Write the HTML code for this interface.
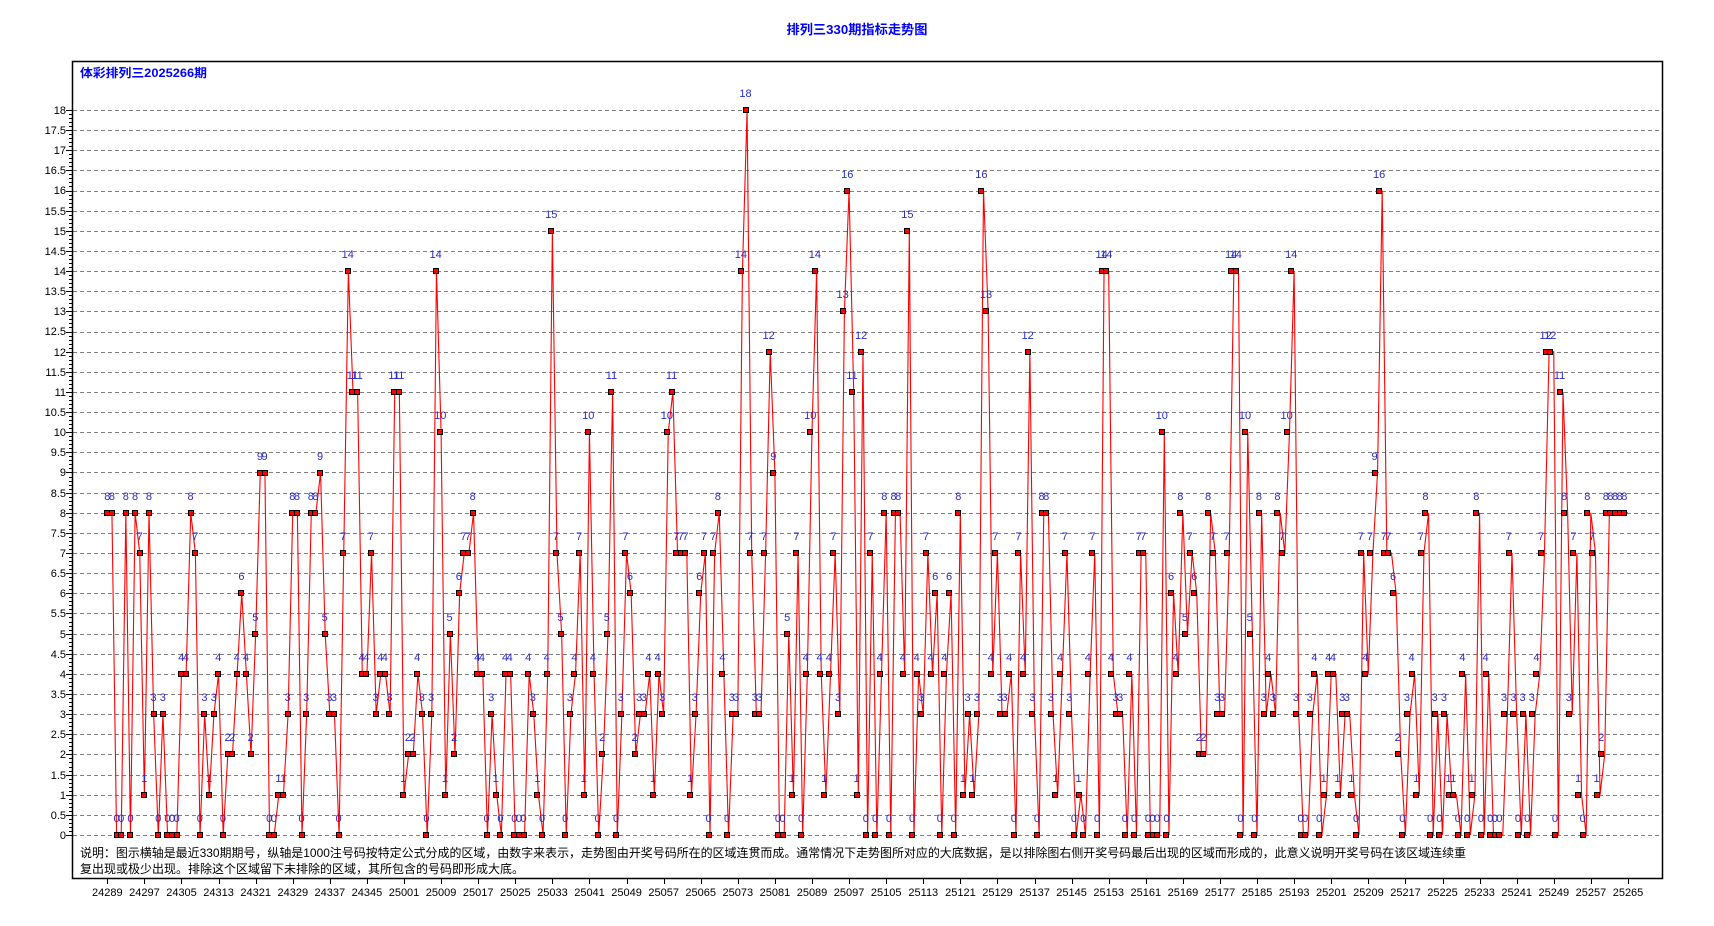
<!DOCTYPE html>
<html><head><meta charset="utf-8">
<style>
html,body{margin:0;padding:0;background:#fff;width:1714px;height:926px;overflow:hidden;position:relative}
svg{position:absolute;left:0;top:0}
#pts{position:absolute;left:104.98px;top:0;height:879px;display:flex;font-family:"Liberation Sans",Arial,sans-serif;font-size:11px;line-height:11px;color:#2a2ac8}
#pts i{font-style:normal;flex:none;width:4.636px;height:100%;display:flex;justify-content:center;align-items:flex-start;position:relative;box-sizing:border-box;padding-top:calc(var(--y) - 21px);white-space:nowrap}
#pts i::after{content:"";position:absolute;left:50%;margin-left:-3px;top:calc(var(--y) - 3px);width:4px;height:4px;background:#f00;border:1px solid #000;z-index:2}
.a0{--y:835px}.a1{--y:794.7px}.a2{--y:754.4px}.a3{--y:714.2px}.a4{--y:673.9px}.a5{--y:633.6px}.a6{--y:593.3px}.a7{--y:553px}.a8{--y:512.8px}.a9{--y:472.5px}.a10{--y:432.2px}.a11{--y:391.9px}.a12{--y:351.6px}.a13{--y:311.4px}.a14{--y:271.1px}.a15{--y:230.8px}.a16{--y:190.5px}.a17{--y:150.2px}.a18{--y:110px}
</style></head><body>
<svg width="1714" height="926" xmlns="http://www.w3.org/2000/svg">
<g id="grid" stroke="#808080" stroke-width="1" stroke-dasharray="4,3"></g>
<g id="ticks" stroke="#000" stroke-width="1"></g>
<rect x="72.5" y="61.5" width="1590" height="817" fill="none" stroke="#000" stroke-width="1.5"/>
<polyline id="ln" fill="none" stroke="#f00" stroke-width="1.1" points=""/>
<text x="857" y="34" text-anchor="middle" font-family="Liberation Sans,Noto Sans CJK SC,sans-serif" font-size="13" font-weight="bold" fill="#0000ff" textLength="141" lengthAdjust="spacingAndGlyphs">排列三330期指标走势图</text>
<text x="80" y="77" font-family="Liberation Sans,Noto Sans CJK SC,sans-serif" font-size="12" font-weight="bold" fill="#0000ff" textLength="127" lengthAdjust="spacingAndGlyphs">体彩排列三2025266期</text>
<g font-family="Liberation Sans,Noto Sans CJK SC,sans-serif" font-size="12" fill="#000">
<text x="80" y="857" textLength="1386" lengthAdjust="spacingAndGlyphs">说明：图示横轴是最近330期期号，纵轴是1000注号码按特定公式分成的区域，由数字来表示，走势图由开奖号码所在的区域连贯而成。通常情况下走势图所对应的大底数据，是以排除图右侧开奖号码最后出现的区域而形成的，此意义说明开奖号码在该区域连续重</text>
<text x="80" y="873">复出现或极少出现。排除这个区域留下未排除的区域，其所包含的号码即形成大底。</text>
</g>
<g font-family="Liberation Sans,Arial,sans-serif" font-size="11" fill="#000" text-anchor="end">
<text x="66" y="839">0</text><text x="66" y="819">0.5</text><text x="66" y="799">1</text><text x="66" y="779">1.5</text><text x="66" y="758">2</text><text x="66" y="738">2.5</text><text x="66" y="718">3</text><text x="66" y="698">3.5</text><text x="66" y="678">4</text><text x="66" y="658">4.5</text><text x="66" y="638">5</text><text x="66" y="617">5.5</text><text x="66" y="597">6</text><text x="66" y="577">6.5</text><text x="66" y="557">7</text><text x="66" y="537">7.5</text><text x="66" y="517">8</text><text x="66" y="497">8.5</text><text x="66" y="476">9</text><text x="66" y="456">9.5</text><text x="66" y="436">10</text><text x="66" y="416">10.5</text><text x="66" y="396">11</text><text x="66" y="376">11.5</text><text x="66" y="356">12</text><text x="66" y="335">12.5</text><text x="66" y="315">13</text><text x="66" y="295">13.5</text><text x="66" y="275">14</text><text x="66" y="255">14.5</text><text x="66" y="235">15</text><text x="66" y="215">15.5</text><text x="66" y="194">16</text><text x="66" y="174">16.5</text><text x="66" y="154">17</text><text x="66" y="134">17.5</text><text x="66" y="114">18</text>
</g>
<g font-family="Liberation Sans,Arial,sans-serif" font-size="11" fill="#000" text-anchor="middle">
<text x="107.3" y="896">24289</text><text x="144.4" y="896">24297</text><text x="181.5" y="896">24305</text><text x="218.6" y="896">24313</text><text x="255.7" y="896">24321</text><text x="292.8" y="896">24329</text><text x="329.8" y="896">24337</text><text x="366.9" y="896">24345</text><text x="404" y="896">25001</text><text x="441.1" y="896">25009</text><text x="478.2" y="896">25017</text><text x="515.3" y="896">25025</text><text x="552.4" y="896">25033</text><text x="589.5" y="896">25041</text><text x="626.6" y="896">25049</text><text x="663.7" y="896">25057</text><text x="700.7" y="896">25065</text><text x="737.8" y="896">25073</text><text x="774.9" y="896">25081</text><text x="812" y="896">25089</text><text x="849.1" y="896">25097</text><text x="886.2" y="896">25105</text><text x="923.3" y="896">25113</text><text x="960.4" y="896">25121</text><text x="997.5" y="896">25129</text><text x="1034.6" y="896">25137</text><text x="1071.6" y="896">25145</text><text x="1108.7" y="896">25153</text><text x="1145.8" y="896">25161</text><text x="1182.9" y="896">25169</text><text x="1220" y="896">25177</text><text x="1257.1" y="896">25185</text><text x="1294.2" y="896">25193</text><text x="1331.3" y="896">25201</text><text x="1368.4" y="896">25209</text><text x="1405.5" y="896">25217</text><text x="1442.5" y="896">25225</text><text x="1479.6" y="896">25233</text><text x="1516.7" y="896">25241</text><text x="1553.8" y="896">25249</text><text x="1590.9" y="896">25257</text><text x="1628" y="896">25265</text>
</g>
</svg>
<div id="pts"><i class=a8>8</i><i class=a8>8</i><i class=a0>0</i><i class=a0>0</i><i class=a8>8</i><i class=a0>0</i><i class=a8>8</i><i class=a7>7</i><i class=a1>1</i><i class=a8>8</i><i class=a3>3</i><i class=a0>0</i><i class=a3>3</i><i class=a0>0</i><i class=a0>0</i><i class=a0>0</i><i class=a4>4</i><i class=a4>4</i><i class=a8>8</i><i class=a7>7</i><i class=a0>0</i><i class=a3>3</i><i class=a1>1</i><i class=a3>3</i><i class=a4>4</i><i class=a0>0</i><i class=a2>2</i><i class=a2>2</i><i class=a4>4</i><i class=a6>6</i><i class=a4>4</i><i class=a2>2</i><i class=a5>5</i><i class=a9>9</i><i class=a9>9</i><i class=a0>0</i><i class=a0>0</i><i class=a1>1</i><i class=a1>1</i><i class=a3>3</i><i class=a8>8</i><i class=a8>8</i><i class=a0>0</i><i class=a3>3</i><i class=a8>8</i><i class=a8>8</i><i class=a9>9</i><i class=a5>5</i><i class=a3>3</i><i class=a3>3</i><i class=a0>0</i><i class=a7>7</i><i class=a14>14</i><i class=a11>11</i><i class=a11>11</i><i class=a4>4</i><i class=a4>4</i><i class=a7>7</i><i class=a3>3</i><i class=a4>4</i><i class=a4>4</i><i class=a3>3</i><i class=a11>11</i><i class=a11>11</i><i class=a1>1</i><i class=a2>2</i><i class=a2>2</i><i class=a4>4</i><i class=a3>3</i><i class=a0>0</i><i class=a3>3</i><i class=a14>14</i><i class=a10>10</i><i class=a1>1</i><i class=a5>5</i><i class=a2>2</i><i class=a6>6</i><i class=a7>7</i><i class=a7>7</i><i class=a8>8</i><i class=a4>4</i><i class=a4>4</i><i class=a0>0</i><i class=a3>3</i><i class=a1>1</i><i class=a0>0</i><i class=a4>4</i><i class=a4>4</i><i class=a0>0</i><i class=a0>0</i><i class=a0>0</i><i class=a4>4</i><i class=a3>3</i><i class=a1>1</i><i class=a0>0</i><i class=a4>4</i><i class=a15>15</i><i class=a7>7</i><i class=a5>5</i><i class=a0>0</i><i class=a3>3</i><i class=a4>4</i><i class=a7>7</i><i class=a1>1</i><i class=a10>10</i><i class=a4>4</i><i class=a0>0</i><i class=a2>2</i><i class=a5>5</i><i class=a11>11</i><i class=a0>0</i><i class=a3>3</i><i class=a7>7</i><i class=a6>6</i><i class=a2>2</i><i class=a3>3</i><i class=a3>3</i><i class=a4>4</i><i class=a1>1</i><i class=a4>4</i><i class=a3>3</i><i class=a10>10</i><i class=a11>11</i><i class=a7>7</i><i class=a7>7</i><i class=a7>7</i><i class=a1>1</i><i class=a3>3</i><i class=a6>6</i><i class=a7>7</i><i class=a0>0</i><i class=a7>7</i><i class=a8>8</i><i class=a4>4</i><i class=a0>0</i><i class=a3>3</i><i class=a3>3</i><i class=a14>14</i><i class=a18>18</i><i class=a7>7</i><i class=a3>3</i><i class=a3>3</i><i class=a7>7</i><i class=a12>12</i><i class=a9>9</i><i class=a0>0</i><i class=a0>0</i><i class=a5>5</i><i class=a1>1</i><i class=a7>7</i><i class=a0>0</i><i class=a4>4</i><i class=a10>10</i><i class=a14>14</i><i class=a4>4</i><i class=a1>1</i><i class=a4>4</i><i class=a7>7</i><i class=a3>3</i><i class=a13>13</i><i class=a16>16</i><i class=a11>11</i><i class=a1>1</i><i class=a12>12</i><i class=a0>0</i><i class=a7>7</i><i class=a0>0</i><i class=a4>4</i><i class=a8>8</i><i class=a0>0</i><i class=a8>8</i><i class=a8>8</i><i class=a4>4</i><i class=a15>15</i><i class=a0>0</i><i class=a4>4</i><i class=a3>3</i><i class=a7>7</i><i class=a4>4</i><i class=a6>6</i><i class=a0>0</i><i class=a4>4</i><i class=a6>6</i><i class=a0>0</i><i class=a8>8</i><i class=a1>1</i><i class=a3>3</i><i class=a1>1</i><i class=a3>3</i><i class=a16>16</i><i class=a13>13</i><i class=a4>4</i><i class=a7>7</i><i class=a3>3</i><i class=a3>3</i><i class=a4>4</i><i class=a0>0</i><i class=a7>7</i><i class=a4>4</i><i class=a12>12</i><i class=a3>3</i><i class=a0>0</i><i class=a8>8</i><i class=a8>8</i><i class=a3>3</i><i class=a1>1</i><i class=a4>4</i><i class=a7>7</i><i class=a3>3</i><i class=a0>0</i><i class=a1>1</i><i class=a0>0</i><i class=a4>4</i><i class=a7>7</i><i class=a0>0</i><i class=a14>14</i><i class=a14>14</i><i class=a4>4</i><i class=a3>3</i><i class=a3>3</i><i class=a0>0</i><i class=a4>4</i><i class=a0>0</i><i class=a7>7</i><i class=a7>7</i><i class=a0>0</i><i class=a0>0</i><i class=a0>0</i><i class=a10>10</i><i class=a0>0</i><i class=a6>6</i><i class=a4>4</i><i class=a8>8</i><i class=a5>5</i><i class=a7>7</i><i class=a6>6</i><i class=a2>2</i><i class=a2>2</i><i class=a8>8</i><i class=a7>7</i><i class=a3>3</i><i class=a3>3</i><i class=a7>7</i><i class=a14>14</i><i class=a14>14</i><i class=a0>0</i><i class=a10>10</i><i class=a5>5</i><i class=a0>0</i><i class=a8>8</i><i class=a3>3</i><i class=a4>4</i><i class=a3>3</i><i class=a8>8</i><i class=a7>7</i><i class=a10>10</i><i class=a14>14</i><i class=a3>3</i><i class=a0>0</i><i class=a0>0</i><i class=a3>3</i><i class=a4>4</i><i class=a0>0</i><i class=a1>1</i><i class=a4>4</i><i class=a4>4</i><i class=a1>1</i><i class=a3>3</i><i class=a3>3</i><i class=a1>1</i><i class=a0>0</i><i class=a7>7</i><i class=a4>4</i><i class=a7>7</i><i class=a9>9</i><i class=a16>16</i><i class=a7>7</i><i class=a7>7</i><i class=a6>6</i><i class=a2>2</i><i class=a0>0</i><i class=a3>3</i><i class=a4>4</i><i class=a1>1</i><i class=a7>7</i><i class=a8>8</i><i class=a0>0</i><i class=a3>3</i><i class=a0>0</i><i class=a3>3</i><i class=a1>1</i><i class=a1>1</i><i class=a0>0</i><i class=a4>4</i><i class=a0>0</i><i class=a1>1</i><i class=a8>8</i><i class=a0>0</i><i class=a4>4</i><i class=a0>0</i><i class=a0>0</i><i class=a0>0</i><i class=a3>3</i><i class=a7>7</i><i class=a3>3</i><i class=a0>0</i><i class=a3>3</i><i class=a0>0</i><i class=a3>3</i><i class=a4>4</i><i class=a7>7</i><i class=a12>12</i><i class=a12>12</i><i class=a0>0</i><i class=a11>11</i><i class=a8>8</i><i class=a3>3</i><i class=a7>7</i><i class=a1>1</i><i class=a0>0</i><i class=a8>8</i><i class=a7>7</i><i class=a1>1</i><i class=a2>2</i><i class=a8>8</i><i class=a8>8</i><i class=a8>8</i><i class=a8>8</i><i class=a8>8</i></div>
<script>
(function(){
var NS="http://www.w3.org/2000/svg";
var g=document.getElementById("grid"),t=document.getElementById("ticks");
function ln(p,x1,y1,x2,y2){var l=document.createElementNS(NS,"line");l.setAttribute("x1",x1);l.setAttribute("y1",y1);l.setAttribute("x2",x2);l.setAttribute("y2",y2);p.appendChild(l);}
for(var j=0;j<=36;j++){var y=Math.round(835-20.14*j)+0.5;ln(g,73,y,1662,y);ln(t,66,y,72,y);}
for(var k=0;k<=180;k++){var y2=Math.round(835-4.028*k)+0.5;ln(t,69,y2,72,y2);}
for(var m=0;m<42;m++){var x=Math.round(107.3+37.09*m)+0.5;ln(t,x,879,x,884);}
var items=document.querySelectorAll("#pts i"),pts=[];
for(var i=0;i<items.length;i++){var v=parseFloat(items[i].textContent);pts.push((107.3+i*4.636).toFixed(2)+","+(835-40.28*v).toFixed(2));}
document.getElementById("ln").setAttribute("points",pts.join(" "));
})();
</script>
</body></html>
